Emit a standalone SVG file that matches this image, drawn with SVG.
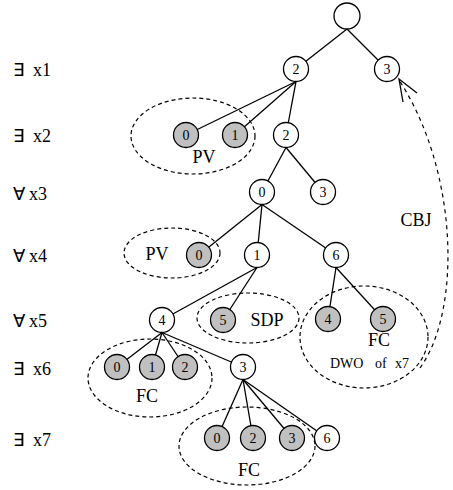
<svg xmlns="http://www.w3.org/2000/svg" width="453" height="490" viewBox="0 0 453 490" font-family="'Liberation Serif', 'Times New Roman', Times, serif">
  <style>
    text { font-family: 'Liberation Serif', 'Times New Roman', Times, serif; fill: #000; }
    .lbl { font-size: 18px; }
    .num { font-size: 14px; text-anchor: middle; }
    .mid { text-anchor: middle; }
    .edge { stroke: #000; stroke-width: 1.3; fill: none; }
    .node { stroke: #000; stroke-width: 1.3; fill: #fff; }
    .node.pruned { fill: #c0c0c0; }
    .group { stroke: #000; stroke-width: 1.2; fill: none; stroke-dasharray: 4 3; }
    .jump { stroke: #000; stroke-width: 1.2; fill: none; stroke-dasharray: 4 4; }
  </style>
  <rect width="453" height="490" fill="#fff"/>

  <!-- quantifier level labels -->
  <g id="levels" class="lbl">
    <text x="13" y="76">∃</text><text x="33" y="76">x1</text>
    <text x="13" y="142">∃</text><text x="33" y="142">x2</text>
    <text x="13" y="200">∀</text><text x="29" y="200">x3</text>
    <text x="13" y="262">∀</text><text x="29" y="262">x4</text>
    <text x="13" y="327">∀</text><text x="29" y="327">x5</text>
    <text x="13" y="375">∃</text><text x="33" y="375">x6</text>
    <text x="13" y="446">∃</text><text x="33" y="446">x7</text>
  </g>

  <!-- pruning regions -->
  <g id="regions">
    <g id="pv-x2"><ellipse class="group" cx="193" cy="136" rx="62" ry="38"/><text class="lbl mid" x="204" y="163">PV</text></g>
    <g id="pv-x4"><ellipse class="group" cx="172" cy="253" rx="48" ry="25"/><text class="lbl mid" x="157" y="260">PV</text></g>
    <g id="sdp-x5"><ellipse class="group" cx="248" cy="318" rx="51" ry="25"/><text class="lbl mid" x="267" y="326">SDP</text></g>
    <g id="fc-dwo"><ellipse class="group" cx="364" cy="337" rx="64" ry="51"/><text class="lbl mid" x="379" y="346">FC</text>
      <text style="font-size:14px" y="368"><tspan x="330">DWO</tspan><tspan x="375">of</tspan><tspan x="395">x7</tspan></text></g>
    <g id="fc-x6"><ellipse class="group" cx="150" cy="378" rx="62" ry="39"/><text class="lbl mid" x="147" y="402">FC</text></g>
    <g id="fc-x7"><ellipse class="group" cx="247" cy="446" rx="68" ry="39"/><text class="lbl mid" x="249" y="476">FC</text></g>
  </g>

  <!-- tree edges -->
  <g id="connectors">
    <line class="edge" x1="347" y1="29" x2="296" y2="69"/>
    <line class="edge" x1="347" y1="29" x2="387" y2="69"/>
    <line class="edge" x1="296" y1="81.5" x2="186" y2="135"/>
    <line class="edge" x1="296" y1="81.5" x2="235" y2="135"/>
    <line class="edge" x1="296" y1="81.5" x2="286" y2="135"/>
    <line class="edge" x1="286" y1="147.5" x2="262" y2="192"/>
    <line class="edge" x1="286" y1="147.5" x2="323" y2="192"/>
    <line class="edge" x1="262" y1="204.5" x2="199" y2="255"/>
    <line class="edge" x1="262" y1="204.5" x2="257" y2="255"/>
    <line class="edge" x1="262" y1="204.5" x2="336" y2="255"/>
    <line class="edge" x1="257" y1="267.5" x2="162" y2="320"/>
    <line class="edge" x1="257" y1="267.5" x2="223" y2="320"/>
    <line class="edge" x1="336" y1="267.5" x2="328" y2="319"/>
    <line class="edge" x1="336" y1="267.5" x2="383" y2="319"/>
    <line class="edge" x1="162" y1="332.5" x2="117" y2="367"/>
    <line class="edge" x1="162" y1="332.5" x2="152" y2="367"/>
    <line class="edge" x1="162" y1="332.5" x2="185" y2="367"/>
    <line class="edge" x1="162" y1="332.5" x2="243" y2="367"/>
    <line class="edge" x1="243" y1="379.5" x2="217" y2="438"/>
    <line class="edge" x1="243" y1="379.5" x2="253" y2="438"/>
    <line class="edge" x1="243" y1="379.5" x2="292" y2="438"/>
    <line class="edge" x1="243" y1="379.5" x2="327" y2="438"/>
    <!-- conflict-directed backjump -->
    <path class="jump" d="M420,368 C462,310 458,170 399,80"/>
    <polyline class="edge" points="403,102 399,79 417,93"/>
  </g>
  <text class="lbl mid" x="416" y="226">CBJ</text>

  <!-- tree nodes -->
  <g id="root"><circle class="node" cx="347" cy="16" r="13"/></g>
  <g id="n-x1-2"><circle class="node" cx="296" cy="69" r="12.5"/><text class="num" x="296" y="74">2</text></g>
  <g id="n-x1-3"><circle class="node" cx="387" cy="69" r="12.5"/><text class="num" x="387" y="74">3</text></g>
  <g id="n-x2-0"><circle class="node pruned" cx="186" cy="135" r="12.5"/><text class="num" x="186" y="140">0</text></g>
  <g id="n-x2-1"><circle class="node pruned" cx="235" cy="135" r="12.5"/><text class="num" x="235" y="140">1</text></g>
  <g id="n-x2-2"><circle class="node" cx="286" cy="135" r="12.5"/><text class="num" x="286" y="140">2</text></g>
  <g id="n-x3-0"><circle class="node" cx="262" cy="192" r="12.5"/><text class="num" x="262" y="197">0</text></g>
  <g id="n-x3-3"><circle class="node" cx="323" cy="192" r="12.5"/><text class="num" x="323" y="197">3</text></g>
  <g id="n-x4-0"><circle class="node pruned" cx="199" cy="255" r="12.5"/><text class="num" x="199" y="260">0</text></g>
  <g id="n-x4-1"><circle class="node" cx="257" cy="255" r="12.5"/><text class="num" x="257" y="260">1</text></g>
  <g id="n-x4-6"><circle class="node" cx="336" cy="255" r="12.5"/><text class="num" x="336" y="260">6</text></g>
  <g id="n-x5-4"><circle class="node" cx="162" cy="320" r="12.5"/><text class="num" x="162" y="325">4</text></g>
  <g id="n-x5-5"><circle class="node pruned" cx="223" cy="320" r="12.5"/><text class="num" x="223" y="325">5</text></g>
  <g id="n-x5-4b"><circle class="node pruned" cx="328" cy="319" r="12.5"/><text class="num" x="328" y="324">4</text></g>
  <g id="n-x5-5b"><circle class="node pruned" cx="383" cy="319" r="12.5"/><text class="num" x="383" y="324">5</text></g>
  <g id="n-x6-0"><circle class="node pruned" cx="117" cy="367" r="12.5"/><text class="num" x="117" y="372">0</text></g>
  <g id="n-x6-1"><circle class="node pruned" cx="152" cy="367" r="12.5"/><text class="num" x="152" y="372">1</text></g>
  <g id="n-x6-2"><circle class="node pruned" cx="185" cy="367" r="12.5"/><text class="num" x="185" y="372">2</text></g>
  <g id="n-x6-3"><circle class="node" cx="243" cy="367" r="12.5"/><text class="num" x="243" y="372">3</text></g>
  <g id="n-x7-0"><circle class="node pruned" cx="217" cy="438" r="12.5"/><text class="num" x="217" y="443">0</text></g>
  <g id="n-x7-2"><circle class="node pruned" cx="253" cy="438" r="12.5"/><text class="num" x="253" y="443">2</text></g>
  <g id="n-x7-3"><circle class="node pruned" cx="292" cy="438" r="12.5"/><text class="num" x="292" y="443">3</text></g>
  <g id="n-x7-6"><circle class="node" cx="327" cy="438" r="12.5"/><text class="num" x="327" y="443">6</text></g>
</svg>
